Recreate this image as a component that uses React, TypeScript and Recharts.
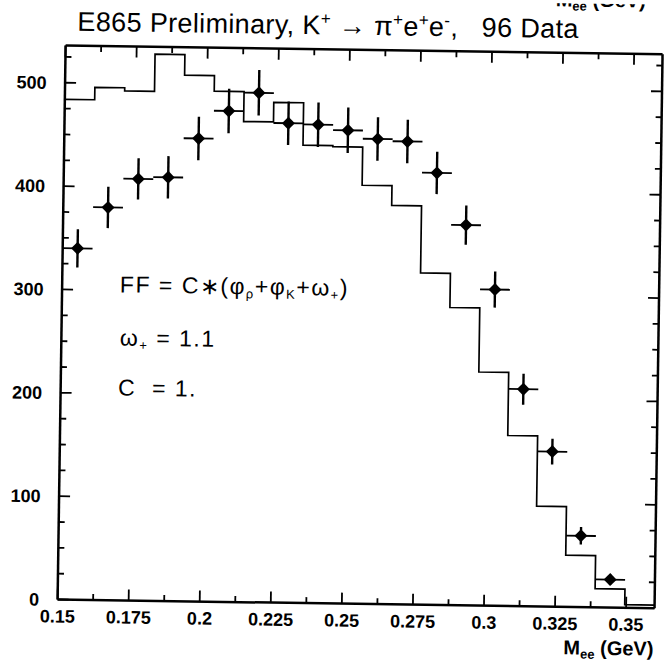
import React from 'react';
import { ComposedChart, Line, Scatter, ErrorBar, XAxis, YAxis } from 'recharts';

// MC histogram: bin edges (GeV) and counts per bin
const binEdges = [0.15, 0.1605, 0.171, 0.1815, 0.192, 0.2025, 0.213, 0.2235, 0.234, 0.2445, 0.255, 0.2655, 0.276, 0.2865, 0.297, 0.3075, 0.318, 0.3285, 0.339, 0.3495, 0.36];
const mcCounts = [484, 496, 493, 529, 509, 494, 465, 484, 443, 442, 405, 386, 321, 288, 226, 165, 97, 50, 18, 3];

// 96 data points with errors
const binCenters = [0.15525, 0.16575, 0.17625, 0.18675, 0.19725, 0.20775, 0.21825, 0.22875, 0.23925, 0.24975, 0.26025, 0.27075, 0.28125, 0.29175, 0.30225, 0.31275, 0.32325, 0.33375, 0.34425];
const dataCounts = [340, 380, 408, 410, 448, 475, 493, 464, 463, 458, 450, 448, 418, 368, 306, 210, 150, 69, 27];
const dataErrors = [18.5, 20, 20, 20.5, 21, 21.5, 22, 21, 21.5, 22, 21, 21, 20.5, 19, 17.5, 15, 12.5, 8.5, 5];
const halfBin = 0.00525;

// axis ticks
const xTicks = [0.15, 0.1625, 0.175, 0.1875, 0.2, 0.2125, 0.225, 0.2375, 0.25, 0.2625, 0.275, 0.2875, 0.3, 0.3125, 0.325, 0.3375, 0.35];
const xMajor = [0.15, 0.175, 0.2, 0.225, 0.25, 0.275, 0.3, 0.325, 0.35];
const xLabels = ['0.15', '0.175', '0.2', '0.225', '0.25', '0.275', '0.3', '0.325', '0.35'];
const yTicks = [0, 25, 50, 75, 100, 125, 150, 175, 200, 225, 250, 275, 300, 325, 350, 375, 400, 425, 450, 475, 500, 525];
const yMajor = [0, 100, 200, 300, 400, 500];
const yLabels = ['0', '100', '200', '300', '400', '500'];

const histData = binEdges.map((x, i) => ({ x, y: mcCounts[Math.min(i, mcCounts.length - 1)] }));
const pointData = binCenters.map((x, i) => ({ x, y: dataCounts[i], ex: halfBin, ey: dataErrors[i] }));

const font = '"Liberation Sans", Arial, Helvetica, sans-serif';
const ink = '#000';
const majorLen = 11;
const minorLen = 6;

const isMajor = (list: number[], v: number) => list.findIndex((m) => Math.abs(m - v) < 1e-6);

const BottomTick = (props: any) => {
  const { x, y, payload } = props;
  const i = isMajor(xMajor, payload.value);
  return (
    <g>
      <line x1={x} x2={x} y1={y} y2={y - (i >= 0 ? majorLen : minorLen)} stroke={ink} strokeWidth={1.8} />
      {i >= 0 && (
        <text x={x} y={y + 23} textAnchor="middle" fontFamily={font} fontWeight="bold" fontSize={18} fill={ink}>
          {xLabels[i]}
        </text>
      )}
    </g>
  );
};

const TopTick = (props: any) => {
  const { x, y, payload } = props;
  const i = isMajor(xMajor, payload.value);
  return <line x1={x} x2={x} y1={y} y2={y + (i >= 0 ? majorLen : minorLen)} stroke={ink} strokeWidth={1.8} />;
};

const LeftTick = (props: any) => {
  const { x, y, payload } = props;
  const i = isMajor(yMajor, payload.value);
  return (
    <g>
      <line x1={x} x2={x + (i >= 0 ? majorLen : minorLen)} y1={y} y2={y} stroke={ink} strokeWidth={1.8} />
      {i >= 0 && (
        <text x={x - 18.5} y={y + 6.3} textAnchor="end" fontFamily={font} fontWeight="bold" fontSize={18} fill={ink}>
          {yLabels[i]}
        </text>
      )}
    </g>
  );
};

const RightTick = (props: any) => {
  const { x, y, payload } = props;
  const i = isMajor(yMajor, payload.value);
  return <line x1={x} x2={x - (i >= 0 ? majorLen : minorLen)} y1={y} y2={y} stroke={ink} strokeWidth={1.8} />;
};

const Diamond = (props: any) => {
  const { cx, cy } = props;
  const r = 6.5;
  return <path d={`M${cx},${cy - r}L${cx + r},${cy}L${cx},${cy + r}L${cx - r},${cy}Z`} fill={ink} />;
};

const frame = { stroke: ink, strokeWidth: 2.5 };

export default function App() {
  return (
    <div style={{ position: 'absolute', left: 0, top: 0, width: 671, height: 664, overflow: 'hidden', background: '#fff' }}>
      <div
        style={{
          position: 'absolute',
          left: 0,
          top: 0,
          width: 671,
          height: 664,
          transform: 'rotate(0.83deg)',
          transformOrigin: '335px 332px',
        }}
      >
        <ComposedChart width={671} height={664} margin={{ top: 48.5, right: 11.5, bottom: 10.5, left: 11.5 }}>
          <XAxis
            dataKey="x"
            type="number"
            domain={[0.15, 0.36]}
            ticks={xTicks}
            interval={0}
            height={50}
            tickSize={0}
            tickMargin={0}
            tickLine={false}
            axisLine={frame}
            tick={BottomTick}
            allowDataOverflow
          />
          <XAxis
            xAxisId="top"
            orientation="top"
            dataKey="x"
            type="number"
            domain={[0.15, 0.36]}
            ticks={xTicks}
            interval={0}
            height={1}
            tickSize={0}
            tickMargin={0}
            tickLine={false}
            axisLine={frame}
            tick={TopTick}
            allowDataOverflow
          />
          <YAxis
            dataKey="y"
            type="number"
            domain={[0, 536]}
            ticks={yTicks}
            interval={0}
            width={50}
            tickSize={0}
            tickMargin={0}
            tickLine={false}
            axisLine={frame}
            tick={LeftTick}
            allowDataOverflow
          />
          <YAxis
            yAxisId="right"
            orientation="right"
            dataKey="y"
            type="number"
            domain={[0, 536]}
            ticks={yTicks}
            interval={0}
            width={1}
            tickSize={0}
            tickMargin={0}
            tickLine={false}
            axisLine={frame}
            tick={RightTick}
            allowDataOverflow
          />
          {/* invisible series so the top and right frame axes are drawn */}
          <Line
            xAxisId="top"
            yAxisId="right"
            data={histData}
            dataKey="y"
            stroke="none"
            dot={false}
            activeDot={false}
            legendType="none"
            isAnimationActive={false}
          />
          <Line
            data={histData}
            dataKey="y"
            type="stepAfter"
            stroke={ink}
            strokeWidth={1.7}
            dot={false}
            isAnimationActive={false}
          />
          <Scatter data={pointData} dataKey="y" shape={Diamond} isAnimationActive={false}>
            <ErrorBar dataKey="ey" direction="y" width={0} stroke={ink} strokeWidth={2.4} isAnimationActive={false} />
            <ErrorBar dataKey="ex" direction="x" width={0} stroke={ink} strokeWidth={1.8} isAnimationActive={false} />
          </Scatter>
        </ComposedChart>
        <svg width={671} height={664} style={{ position: 'absolute', left: 0, top: 0, pointerEvents: 'none' }}>
          <g fontFamily={font} fill={ink}>
            <text x={551} y={3} fontSize={20} fontWeight="bold">
              M<tspan fontSize={13} dy={4}>ee</tspan>
              <tspan dy={-4}>{'\u00a0(GeV)'}</tspan>
            </text>
            <text x={73} y={34.5} fontSize={27} textLength={501} lengthAdjust="spacing">
              E865 Preliminary, K<tspan fontSize={17} dy={-10}>+</tspan>
              <tspan dy={10}>{' \u2192 \u03c0'}</tspan>
              <tspan fontSize={17} dy={-10}>+</tspan>
              <tspan dy={10}>e</tspan>
              <tspan fontSize={17} dy={-10}>+</tspan>
              <tspan dy={10}>e</tspan>
              <tspan fontSize={17} dy={-10}>-</tspan>
              <tspan dy={10}>{',\u00a0\u00a0 96 Data'}</tspan>
            </text>
            <text x={119.3} y={295.5} fontSize={23} letterSpacing={1.5}>
              {'FF = C\u2217(\u03c6'}
              <tspan fontSize={13} dy={4}>{'\u03c1'}</tspan>
              <tspan dy={-4}>{'+\u03c6'}</tspan>
              <tspan fontSize={13} dy={4}>K</tspan>
              <tspan dy={-4}>{'+\u03c9'}</tspan>
              <tspan fontSize={13} dy={4}>+</tspan>
              <tspan dy={-4}>)</tspan>
            </text>
            <text x={120} y={348.5} fontSize={23} letterSpacing={1.5}>
              {'\u03c9'}
              <tspan fontSize={13} dy={4}>+</tspan>
              <tspan dy={-4}>{'\u00a0= 1.1'}</tspan>
            </text>
            <text x={119} y={398.6} fontSize={23} letterSpacing={1.5}>
              {'C\u00a0 = 1.'}
            </text>
            <text x={658} y={651} fontSize={20} fontWeight="bold" textAnchor="end">
              M<tspan fontSize={13} dy={4}>ee</tspan>
              <tspan dy={-4}>{'\u00a0(GeV)'}</tspan>
            </text>
          </g>
        </svg>
      </div>
    </div>
  );
}
